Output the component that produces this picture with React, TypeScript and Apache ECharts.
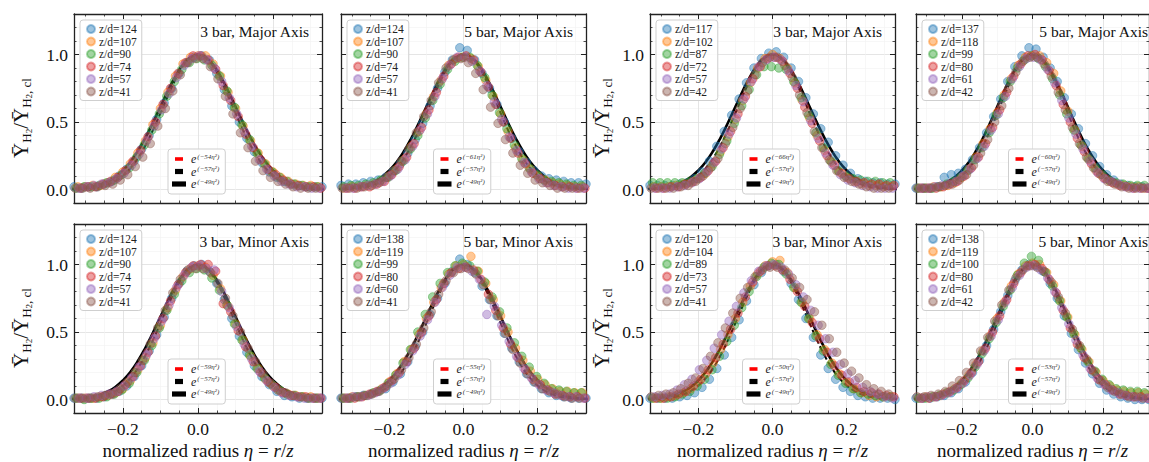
import React, { useEffect, useRef } from 'react';
import * as echarts from 'echarts';

const FONT = "'Liberation Serif', 'DejaVu Serif', serif";
const COLORS = ['#1f77b4', '#ff7f0e', '#2ca02c', '#d62728', '#9467bd', '#8c564b'];

// sampling positions (normalized radius), one set per z/d series
const ETA_A = [-0.33,-0.31,-0.29,-0.27,-0.25,-0.23,-0.21,-0.19,-0.17,-0.15,-0.13,-0.11,-0.09,-0.07,-0.05,-0.03,-0.01,0.01,0.03,0.05,0.07,0.09,0.11,0.13,0.15,0.17,0.19,0.21,0.23,0.25,0.27,0.29,0.31,0.33];
const ETA_B = [-0.32,-0.30,-0.28,-0.26,-0.24,-0.22,-0.20,-0.18,-0.16,-0.14,-0.12,-0.10,-0.08,-0.06,-0.04,-0.02,0,0.02,0.04,0.06,0.08,0.10,0.12,0.14,0.16,0.18,0.20,0.22,0.24,0.26,0.28,0.30,0.32];
const ETA_C = [-0.323,-0.303,-0.283,-0.263,-0.243,-0.223,-0.203,-0.183,-0.163,-0.143,-0.123,-0.103,-0.083,-0.063,-0.043,-0.023,-0.003,0.017,0.037,0.057,0.077,0.097,0.117,0.137,0.157,0.177,0.197,0.217,0.237,0.257,0.277,0.297,0.317,0.337];
const ETA_D = [-0.313,-0.293,-0.273,-0.253,-0.233,-0.213,-0.193,-0.173,-0.153,-0.133,-0.113,-0.093,-0.073,-0.053,-0.033,-0.013,0.007,0.027,0.047,0.067,0.087,0.107,0.127,0.147,0.167,0.187,0.207,0.227,0.247,0.267,0.287,0.307,0.327];
const ETA_E = [-0.337,-0.317,-0.297,-0.277,-0.257,-0.237,-0.217,-0.197,-0.177,-0.157,-0.137,-0.117,-0.097,-0.077,-0.057,-0.037,-0.017,0.003,0.023,0.043,0.063,0.083,0.103,0.123,0.143,0.163,0.183,0.203,0.223,0.243,0.263,0.283,0.303,0.323];
const ETA_F = [-0.327,-0.307,-0.287,-0.267,-0.247,-0.227,-0.207,-0.187,-0.167,-0.147,-0.127,-0.107,-0.087,-0.067,-0.047,-0.027,-0.007,0.013,0.033,0.053,0.073,0.093,0.113,0.133,0.153,0.173,0.193,0.213,0.233,0.253,0.273,0.293,0.313];
const SERIES_ETA = [ETA_A, ETA_B, ETA_C, ETA_D, ETA_E, ETA_F];
const ETA_L = [-0.34,-0.32,-0.30,-0.28,-0.26,-0.24,-0.22,-0.20,-0.18,-0.16,-0.14,-0.12,-0.10,-0.08,-0.06,-0.04,-0.02,0,0.02,0.04,0.06,0.08,0.10,0.12,0.14,0.16,0.18,0.20,0.22,0.24,0.26,0.28,0.30,0.32,0.34];

// reference curves e^(-57 eta^2) and e^(-49 eta^2) sampled on ETA_L
const CURVE_57 = [.001,.003,.006,.012,.021,.038,.063,.102,.158,.232,.327,.440,.566,.694,.814,.913,.977,1,.977,.913,.814,.694,.566,.440,.327,.232,.158,.102,.063,.038,.021,.012,.006,.003,.001];
const CURVE_49 = [.003,.007,.012,.022,.036,.060,.093,.141,.204,.285,.383,.494,.613,.731,.838,.925,.981,1,.981,.925,.838,.731,.613,.494,.383,.285,.204,.141,.093,.060,.036,.022,.012,.007,.003];

const TITLES = ['3 bar, Major Axis','5 bar, Major Axis','3 bar, Major Axis','5 bar, Major Axis','3 bar, Minor Axis','5 bar, Minor Axis','3 bar, Minor Axis','5 bar, Minor Axis'];
const ZD = [[124,107,90,74,57,41],[124,107,90,74,57,41],[117,102,87,72,57,42],[137,118,99,80,61,42],[124,107,90,74,57,41],[138,119,99,80,60,41],[120,104,89,73,57,41],[138,119,100,80,61,42]];
const FIT_COEF = [54,61,66,60,59,55,50,53];
const REF_COEF = [57,49];

const X_MAJOR = [-0.2, 0, 0.2];
const X_MINOR = [-0.3,-0.25,-0.15,-0.1,-0.05,0.05,0.1,0.15,0.25,0.3];
const Y_MAJOR = [0, 0.5, 1.0];
const Y_MINOR = [0.1,0.2,0.3,0.4,0.6,0.7,0.8,0.9,1.1,1.2];

// Panel 1: 3 bar, Major Axis
const P1_S1 = [.02,.01,.02,.02,.04,.06,.10,.15,.21,.30,.40,.52,.64,.75,.86,.94,.98,.99,.96,.86,.74,.62,.50,.38,.28,.20,.13,.09,.06,.04,.03,.02,.02,.02];
const P1_S2 = [.02,.02,.03,.03,.05,.09,.13,.19,.27,.36,.48,.60,.72,.84,.93,.98,.99,.99,.93,.84,.72,.60,.47,.36,.27,.19,.13,.09,.06,.04,.03,.03,.02];
const P1_S3 = [.01,.02,.02,.03,.05,.07,.11,.16,.24,.33,.44,.56,.69,.80,.89,.94,.97,.96,.92,.84,.73,.61,.48,.37,.27,.19,.13,.09,.06,.04,.03,.02,.02,.02];
const P1_S4 = [.01,.02,.02,.04,.06,.09,.14,.21,.29,.39,.50,.63,.75,.86,.94,.99,.99,.96,.89,.77,.66,.54,.41,.31,.22,.15,.11,.07,.04,.03,.02,.02,.01];
const P1_S5 = [.01,.01,.02,.03,.04,.05,.08,.12,.18,.26,.36,.47,.59,.71,.83,.92,.97,.99,.96,.90,.80,.68,.56,.43,.32,.22,.15,.10,.06,.04,.02,.02,.01,.01];
const P1_S6 = [.01,.01,.01,.02,.03,.04,.07,.11,.17,.24,.34,.47,.60,.73,.85,.94,.97,.97,.91,.82,.69,.56,.42,.31,.21,.14,.09,.06,.04,.02,.01,.01,.01];
// Panel 2: 5 bar, Major Axis
const P2_S1 = [.03,.04,.04,.05,.06,.07,.09,.13,.19,.27,.37,.49,.62,.75,.87,.96,1.05,1.03,.96,.86,.75,.63,.50,.38,.28,.20,.14,.10,.08,.07,.06,.05,.05,.04];
const P2_S2 = [.01,.02,.02,.03,.04,.06,.10,.15,.22,.32,.43,.56,.69,.81,.92,.97,.98,.97,.91,.81,.69,.56,.43,.31,.22,.15,.10,.07,.05,.04,.03,.02,.02];
const P2_S3 = [.02,.03,.03,.04,.05,.07,.09,.14,.21,.30,.40,.53,.66,.78,.89,.95,.98,.98,.92,.83,.70,.57,.45,.33,.23,.16,.11,.07,.06,.05,.04,.03,.03,.02];
const P2_S4 = [.01,.01,.02,.02,.04,.06,.11,.17,.24,.34,.46,.59,.72,.84,.93,.98,.99,.96,.87,.76,.63,.50,.38,.27,.19,.12,.08,.05,.03,.02,.02,.01,.01];
const P2_S5 = [.01,.01,.01,.02,.03,.04,.06,.10,.15,.22,.32,.44,.56,.69,.82,.92,.98,.98,.95,.88,.77,.65,.52,.39,.29,.20,.13,.08,.05,.03,.02,.01,.01,.01];
const P2_S6 = [.01,.01,.01,.02,.03,.05,.09,.14,.21,.30,.42,.54,.66,.79,.90,.96,.97,.94,.86,.74,.61,.49,.37,.27,.18,.12,.07,.05,.03,.01,.01,.01,.01];
// Panel 3: 3 bar, Major Axis
const P3_S1 = [.03,.03,.03,.03,.04,.05,.08,.13,.21,.32,.43,.55,.67,.79,.90,.97,1.01,1.02,.98,.90,.80,.68,.56,.45,.35,.25,.18,.12,.08,.06,.05,.05,.04,.04];
const P3_S2 = [.02,.02,.02,.03,.04,.05,.08,.12,.19,.28,.39,.52,.66,.79,.90,.97,1.0,.97,.90,.79,.66,.53,.40,.29,.20,.13,.09,.06,.04,.03,.03,.02,.02];
const P3_S3 = [.05,.05,.05,.05,.05,.06,.08,.12,.17,.26,.36,.49,.62,.74,.85,.91,.91,.90,.89,.80,.68,.55,.42,.31,.21,.14,.10,.08,.07,.06,.06,.05,.05,.05];
const P3_S4 = [.01,.01,.02,.02,.04,.06,.09,.14,.21,.31,.43,.56,.69,.82,.91,.97,.98,.95,.86,.75,.61,.49,.36,.25,.18,.12,.08,.06,.05,.04,.04,.03,.03];
const P3_S5 = [.01,.01,.01,.01,.02,.03,.05,.08,.13,.20,.30,.41,.53,.67,.80,.91,.96,.98,.96,.88,.77,.65,.51,.38,.27,.18,.11,.07,.05,.03,.02,.01,.01,.01];
const P3_S6 = [.01,.01,.01,.01,.02,.03,.06,.10,.16,.23,.34,.46,.60,.73,.85,.94,.98,.98,.92,.83,.70,.57,.43,.31,.22,.14,.09,.06,.04,.02,.01,.01,.01];
// Panel 4: 5 bar, Major Axis
const P4_S1 = [.01,.01,.01,.02,.09,.11,.12,.15,.22,.31,.42,.54,.67,.80,.91,.99,1.05,1.04,.98,.90,.80,.68,.56,.45,.34,.25,.17,.11,.07,.04,.03,.02,.02,.01];
const P4_S2 = [.01,.01,.02,.02,.03,.05,.09,.15,.24,.34,.45,.57,.70,.82,.92,.98,.99,.99,.94,.86,.73,.58,.44,.32,.22,.14,.09,.06,.04,.03,.02,.02,.01];
const P4_S3 = [.01,.01,.01,.02,.04,.06,.09,.14,.22,.31,.42,.55,.68,.80,.90,.96,.99,.97,.91,.82,.70,.56,.44,.33,.23,.16,.11,.07,.05,.04,.03,.03,.03,.02];
const P4_S4 = [.01,.01,.01,.02,.04,.06,.10,.16,.24,.34,.46,.59,.72,.84,.93,.99,1.0,.96,.88,.77,.63,.50,.38,.28,.19,.12,.08,.05,.03,.02,.01,.01,.01];
const P4_S5 = [.01,.01,.01,.02,.03,.04,.06,.10,.15,.23,.32,.44,.56,.69,.82,.91,.97,.98,.96,.89,.79,.66,.53,.41,.30,.21,.13,.08,.06,.04,.02,.01,.01,.01];
const P4_S6 = [.01,.01,.01,.02,.03,.04,.07,.11,.18,.27,.37,.50,.62,.75,.87,.95,.98,.98,.93,.84,.72,.59,.46,.34,.24,.16,.11,.06,.04,.02,.01,.01,.01];
// Panel 5: 3 bar, Minor Axis
const P5_S1 = [.01,.01,.01,.01,.02,.04,.06,.10,.17,.25,.36,.48,.61,.75,.86,.95,.99,1.0,.95,.86,.74,.60,.47,.35,.25,.17,.11,.06,.03,.02,.01,.01,.01,.01];
const P5_S2 = [.01,.01,.01,.02,.03,.05,.08,.14,.22,.31,.42,.55,.68,.81,.91,.97,.99,.98,.92,.82,.69,.56,.44,.32,.23,.15,.10,.06,.04,.03,.02,.02,.01];
const P5_S3 = [.01,.00,.01,.01,.02,.04,.07,.12,.20,.29,.40,.53,.66,.78,.88,.94,.97,.96,.90,.81,.70,.56,.44,.33,.23,.16,.11,.07,.04,.03,.02,.01,.01,.01];
const P5_S4 = [.01,.01,.01,.02,.04,.06,.11,.17,.25,.35,.47,.60,.73,.85,.94,.99,1.0,1.0,.95,.71,.65,.51,.39,.28,.20,.13,.09,.05,.03,.02,.02,.01,.01];
const P5_S5 = [.01,.01,.01,.02,.03,.04,.06,.10,.16,.24,.33,.45,.58,.70,.83,.92,.98,.99,.97,.96,.80,.68,.54,.41,.30,.21,.14,.09,.05,.03,.02,.01,.01,.01];
const P5_S6 = [.01,.01,.01,.02,.03,.04,.08,.13,.20,.29,.41,.53,.66,.79,.89,.96,.97,.97,.94,.86,.75,.62,.50,.38,.28,.19,.12,.07,.05,.03,.02,.01,.01];
// Panel 6: 5 bar, Minor Axis
const P6_S1 = [.01,.01,.02,.03,.04,.06,.08,.13,.19,.28,.39,.50,.63,.75,.86,.95,1.04,1.0,.94,.84,.74,.62,.49,.38,.28,.19,.13,.08,.05,.03,.02,.01,.01,.01];
const P6_S2 = [.01,.02,.02,.03,.05,.08,.13,.19,.28,.37,.48,.60,.72,.83,.93,.99,1.0,1.06,.95,.86,.74,.62,.50,.38,.29,.21,.15,.11,.08,.06,.06,.05,.05];
const P6_S3 = [.01,.01,.02,.03,.05,.07,.12,.18,.27,.37,.50,.63,.76,.86,.94,.99,1.01,.99,.95,.87,.76,.65,.53,.42,.32,.24,.17,.12,.08,.07,.06,.05,.05,.04];
const P6_S4 = [.01,.01,.02,.04,.06,.09,.14,.20,.28,.38,.50,.62,.74,.86,.94,.97,.98,.96,.89,.78,.66,.53,.41,.31,.22,.15,.11,.07,.04,.03,.02,.02,.01];
const P6_S5 = [.01,.01,.02,.02,.03,.05,.08,.12,.18,.26,.36,.47,.59,.72,.83,.92,.98,.98,.95,.89,.63,.69,.55,.43,.32,.23,.16,.11,.07,.05,.03,.02,.02,.01];
const P6_S6 = [.01,.01,.02,.03,.04,.06,.10,.15,.22,.31,.41,.53,.65,.78,.88,.94,.97,.97,.93,.85,.74,.62,.49,.37,.27,.19,.13,.08,.06,.04,.02,.01,.01];
// Panel 7: 3 bar, Minor Axis
const P7_S1 = [.01,.01,.01,.01,.02,.03,.05,.09,.15,.23,.33,.46,.59,.73,.85,.94,.99,1.0,.95,.86,.74,.60,.46,.33,.23,.15,.09,.06,.03,.02,.01,.01,.01,.00];
const P7_S2 = [.01,.01,.02,.03,.05,.08,.13,.19,.27,.37,.48,.60,.72,.84,.93,.99,1.02,1.03,.94,.83,.72,.60,.48,.37,.27,.19,.13,.08,.05,.03,.02,.02,.02];
const P7_S3 = [.01,.01,.01,.02,.04,.06,.10,.15,.22,.32,.43,.55,.68,.80,.91,.98,1.01,1.0,.93,.83,.72,.60,.47,.36,.26,.18,.12,.08,.05,.04,.03,.02,.02,.01];
const P7_S4 = [.01,.01,.02,.04,.06,.10,.15,.22,.31,.41,.52,.64,.76,.87,.95,.99,.99,.96,.89,.80,.69,.57,.45,.35,.25,.18,.13,.09,.06,.05,.04,.03,.02];
const P7_S5 = [.01,.02,.03,.04,.07,.11,.15,.22,.29,.38,.48,.58,.69,.79,.88,.95,.99,1.0,.98,.93,.85,.76,.66,.55,.45,.35,.26,.19,.14,.09,.06,.04,.02,.01];
const P7_S6 = [.02,.03,.04,.05,.08,.12,.16,.23,.32,.42,.53,.64,.75,.83,.91,.96,.98,.98,.96,.90,.83,.74,.65,.55,.45,.35,.27,.21,.16,.11,.08,.06,.04];
// Panel 8: 5 bar, Minor Axis
const P8_S1 = [.01,.01,.01,.02,.03,.05,.08,.13,.20,.29,.40,.52,.65,.77,.88,.96,1.0,.99,.95,.86,.75,.62,.49,.37,.27,.19,.12,.07,.04,.02,.01,.00,.00,.00];
const P8_S2 = [.01,.02,.02,.03,.05,.08,.12,.18,.26,.36,.47,.60,.72,.84,.93,.99,1.01,1.0,.94,.85,.73,.61,.48,.37,.28,.20,.14,.10,.07,.06,.05,.05,.04];
const P8_S3 = [.01,.01,.02,.03,.05,.07,.11,.16,.24,.34,.45,.57,.69,.81,.92,1.01,1.06,1.03,.94,.84,.73,.61,.49,.38,.28,.21,.15,.11,.08,.07,.06,.06,.05,.05];
const P8_S4 = [.01,.01,.02,.04,.06,.09,.14,.20,.28,.38,.50,.62,.74,.86,.94,.99,1.0,.97,.89,.79,.66,.53,.41,.31,.22,.15,.11,.07,.04,.03,.02,.02,.01];
const P8_S5 = [.01,.01,.02,.02,.03,.05,.08,.12,.18,.26,.36,.47,.59,.72,.83,.92,.98,.99,.96,.90,.80,.68,.56,.44,.33,.23,.16,.11,.07,.05,.03,.02,.01,.01];
const P8_S6 = [.02,.02,.03,.04,.06,.10,.14,.20,.27,.36,.46,.58,.70,.81,.90,.96,.99,.98,.95,.87,.76,.64,.52,.40,.30,.21,.14,.09,.06,.04,.02,.02,.01];

const PANEL_DATA = [
  [P1_S1, P1_S2, P1_S3, P1_S4, P1_S5, P1_S6],
  [P2_S1, P2_S2, P2_S3, P2_S4, P2_S5, P2_S6],
  [P3_S1, P3_S2, P3_S3, P3_S4, P3_S5, P3_S6],
  [P4_S1, P4_S2, P4_S3, P4_S4, P4_S5, P4_S6],
  [P5_S1, P5_S2, P5_S3, P5_S4, P5_S5, P5_S6],
  [P6_S1, P6_S2, P6_S3, P6_S4, P6_S5, P6_S6],
  [P7_S1, P7_S2, P7_S3, P7_S4, P7_S5, P7_S6],
  [P8_S1, P8_S2, P8_S3, P8_S4, P8_S5, P8_S6],
];

const GRIDS = [
  { left: 74, top: 14, width: 248, height: 189 },
  { left: 341, top: 14, width: 245, height: 189 },
  { left: 650, top: 14, width: 245, height: 189 },
  { left: 916, top: 14, width: 245, height: 189 },
  { left: 74, top: 224, width: 248, height: 189 },
  { left: 341, top: 224, width: 245, height: 189 },
  { left: 650, top: 224, width: 245, height: 189 },
  { left: 916, top: 224, width: 245, height: 189 },
];

function rgba(hex: string, a: number) {
  const r = parseInt(hex.slice(1, 3), 16);
  const g = parseInt(hex.slice(3, 5), 16);
  const b = parseInt(hex.slice(5, 7), 16);
  return `rgba(${r},${g},${b},${a})`;
}

function zip(xs: number[], ys: number[]) {
  const out: number[][] = [];
  for (let i = 0; i < Math.min(xs.length, ys.length); i++) out.push([xs[i], ys[i]]);
  return out;
}

const fmt = (v: number) => {
  const s = Math.abs(v).toFixed(1);
  return v < -1e-9 ? '\u2212' + s : s;
};

const ICON_RED = 'path://M0,0M14,6M3,1.2h8v3.6h-8z';
const ICON_DASH = 'path://M0,0M14,6M3,0.4h8v5.2h-8z';
const ICON_THICK = 'path://M0,0M14,6M0,0.4h14v5.2h-14z';

function buildOption() {
  const xAxis: any[] = [];
  const yAxis: any[] = [];
  const series: any[] = [];
  const legend: any[] = [];
  const graphic: any[] = [];
  const frame = { color: '#222', width: 1.3 };

  GRIDS.forEach((g, p) => {
    const bottomRow = p >= 4;
    const showY = p % 4 === 0 || p % 4 === 2;
    const xBase = { type: 'value', gridIndex: p, min: -0.33, max: 0.33 };
    const yBase = { type: 'value', gridIndex: p, min: -0.1, max: 1.3 };
    xAxis.push({
      ...xBase, position: 'bottom',
      axisLine: { show: true, onZero: false, lineStyle: frame },
      axisTick: { show: true, inside: true, length: 5, customValues: X_MAJOR, lineStyle: { color: '#222', width: 1 } },
      axisLabel: { show: bottomRow, customValues: X_MAJOR, formatter: fmt, fontFamily: FONT, fontSize: 17.5, color: '#111', margin: 7 },
      splitLine: { show: true, lineStyle: { color: '#dedede', width: 0.8 } },
      name: bottomRow ? 'normalized radius {i|\u03b7} = {i|r}/{i|z}' : '',
      nameLocation: 'middle', nameGap: 28,
      nameTextStyle: { fontFamily: FONT, fontSize: 19, color: '#111', rich: { i: { fontFamily: FONT, fontStyle: 'italic', fontSize: 19, color: '#111' } } },
    });
    xAxis.push({
      ...xBase, position: 'bottom',
      axisLine: { show: false, onZero: false },
      axisTick: { show: true, inside: true, length: 2.5, customValues: X_MINOR, lineStyle: { color: '#222', width: 0.8 } },
      axisLabel: { show: false },
      splitLine: { show: true, lineStyle: { color: '#f1f1f1', width: 0.6 } },
    });
    xAxis.push({
      ...xBase, position: 'top',
      axisLine: { show: true, onZero: false, lineStyle: frame },
      axisTick: { show: true, inside: true, length: 5, customValues: X_MAJOR, lineStyle: { color: '#222', width: 1 } },
      axisLabel: { show: false }, splitLine: { show: false },
    });
    xAxis.push({
      ...xBase, position: 'top',
      axisLine: { show: false, onZero: false },
      axisTick: { show: true, inside: true, length: 2.5, customValues: X_MINOR, lineStyle: { color: '#222', width: 0.8 } },
      axisLabel: { show: false }, splitLine: { show: false },
    });
    yAxis.push({
      ...yBase, position: 'left',
      axisLine: { show: true, onZero: false, lineStyle: frame },
      axisTick: { show: true, inside: true, length: 5, customValues: Y_MAJOR, lineStyle: { color: '#222', width: 1 } },
      axisLabel: { show: showY, customValues: Y_MAJOR, formatter: fmt, fontFamily: FONT, fontSize: 17.5, color: '#111', margin: 6 },
      splitLine: { show: true, lineStyle: { color: '#dedede', width: 0.8 } },
    });
    yAxis.push({
      ...yBase, position: 'left',
      axisLine: { show: false, onZero: false },
      axisTick: { show: true, inside: true, length: 2.5, customValues: Y_MINOR, lineStyle: { color: '#222', width: 0.8 } },
      axisLabel: { show: false },
      splitLine: { show: true, lineStyle: { color: '#f1f1f1', width: 0.6 } },
    });
    yAxis.push({
      ...yBase, position: 'right',
      axisLine: { show: true, onZero: false, lineStyle: frame },
      axisTick: { show: true, inside: true, length: 5, customValues: Y_MAJOR, lineStyle: { color: '#222', width: 1 } },
      axisLabel: { show: false }, splitLine: { show: false },
    });
    yAxis.push({
      ...yBase, position: 'right',
      axisLine: { show: false, onZero: false },
      axisTick: { show: true, inside: true, length: 2.5, customValues: Y_MINOR, lineStyle: { color: '#222', width: 0.8 } },
      axisLabel: { show: false }, splitLine: { show: false },
    });

    const xi = p * 4;
    const yi = p * 4;
    const redName = '\u2212' + FIT_COEF[p];
    const n57 = '\u2212' + REF_COEF[0];
    const n49 = '\u2212' + REF_COEF[1];

    series.push({
      type: 'line', name: redName, xAxisIndex: xi, yAxisIndex: yi, data: [], color: '#ff0000',
      showSymbol: false, lineStyle: { color: '#ff0000', width: 3 }, z: 1, silent: true,
    });
    series.push({
      type: 'line', name: n49, xAxisIndex: xi, yAxisIndex: yi, data: zip(ETA_L, CURVE_49), color: '#000',
      showSymbol: false, smooth: true, lineStyle: { color: '#000', width: 2.6 }, z: 1, silent: true,
    });
    series.push({
      type: 'line', name: n57, xAxisIndex: xi, yAxisIndex: yi, data: zip(ETA_L, CURVE_57), color: '#000',
      showSymbol: false, smooth: true, lineStyle: { color: '#000', width: 2, type: [6, 3] }, z: 1, silent: true,
    });

    const names = ZD[p].map((z) => 'z/d=' + z);
    PANEL_DATA[p].forEach((ys, k) => {
      series.push({
        type: 'scatter', name: names[k], xAxisIndex: xi, yAxisIndex: yi,
        data: zip(SERIES_ETA[k], ys), symbol: 'circle', symbolSize: 8.5, z: 2, silent: true,
        itemStyle: { color: rgba(COLORS[k], 0.55), borderColor: rgba(COLORS[k], 0.55), borderWidth: 1 },
      });
    });

    legend.push({
      orient: 'vertical', left: g.left + 6, top: g.top + 6, data: names, icon: 'circle',
      itemWidth: 8, itemHeight: 8, itemGap: 0.5, selectedMode: false,
      textStyle: { fontFamily: FONT, fontSize: 11.5, color: '#222', lineHeight: 12, padding: [0, 0, 0, -1] },
      backgroundColor: 'rgba(255,255,255,0.85)', borderColor: '#cfcfcf', borderWidth: 1, borderRadius: 3,
      padding: [3, 5, 3, 6],
    });
    legend.push({
      orient: 'vertical', left: g.left + g.width / 2 - 30, top: g.top + 135,
      data: [{ name: redName, icon: ICON_RED }, { name: n57, icon: ICON_DASH }, { name: n49, icon: ICON_THICK }],
      itemWidth: 14, itemHeight: 6, itemGap: 0.5, selectedMode: false,
      formatter: (n: string) => `{e|e}{s|(${n}\u03b7\u00b2)}`,
      textStyle: {
        color: '#222',
        rich: {
          e: { fontFamily: FONT, fontStyle: 'italic', fontSize: 12, lineHeight: 12, color: '#222', verticalAlign: 'bottom' },
          s: { fontFamily: FONT, fontStyle: 'italic', fontSize: 7, lineHeight: 7, color: '#333', verticalAlign: 'top', padding: [0, 0, 0, 1] },
        },
      },
      lineStyle: { width: 0, type: 'solid' },
      itemStyle: { borderWidth: 0 },
      backgroundColor: 'rgba(255,255,255,0.85)', borderColor: '#cfcfcf', borderWidth: 1, borderRadius: 3,
      padding: [4, 6, 4, 4],
    });

    graphic.push({
      type: 'text', x: g.left + g.width - 13, y: g.top + 17.5, z: 10,
      style: { text: TITLES[p], fontFamily: FONT, fontSize: 15.5, fill: '#111', align: 'right', verticalAlign: 'middle' },
    });
    if (showY) {
      const lx = p % 4 === 0 ? 21 : 602;
      graphic.push({
        type: 'text', x: lx, y: g.top + 104, rotation: Math.PI / 2, z: 10,
        style: {
          text: '{b|\u0232}{s|H}{t|2}{b|/\u0232}{s|H}{t|2}{s|, cl}',
          align: 'center', verticalAlign: 'middle', fill: '#111',
          rich: {
            b: { fontFamily: FONT, fontSize: 21, lineHeight: 24, fill: '#111', verticalAlign: 'middle' },
            s: { fontFamily: FONT, fontSize: 13, lineHeight: 13, fill: '#111', verticalAlign: 'bottom' },
            t: { fontFamily: FONT, fontSize: 9, lineHeight: 7, fill: '#111', verticalAlign: 'bottom' },
          },
        },
      });
    }
  });

  return {
    animation: false,
    backgroundColor: '#ffffff',
    grid: GRIDS.map((g) => ({ ...g, containLabel: false })),
    xAxis, yAxis, series, legend, graphic,
  };
}

export default function App() {
  const ref = useRef<HTMLDivElement>(null);
  useEffect(() => {
    document.body.style.margin = '0';
    if (!ref.current) return;
    const chart = echarts.init(ref.current, undefined, { renderer: 'svg' });
    chart.setOption(buildOption() as any);
    return () => chart.dispose();
  }, []);
  return <div ref={ref} style={{ width: 1149, height: 462 }} />;
}
